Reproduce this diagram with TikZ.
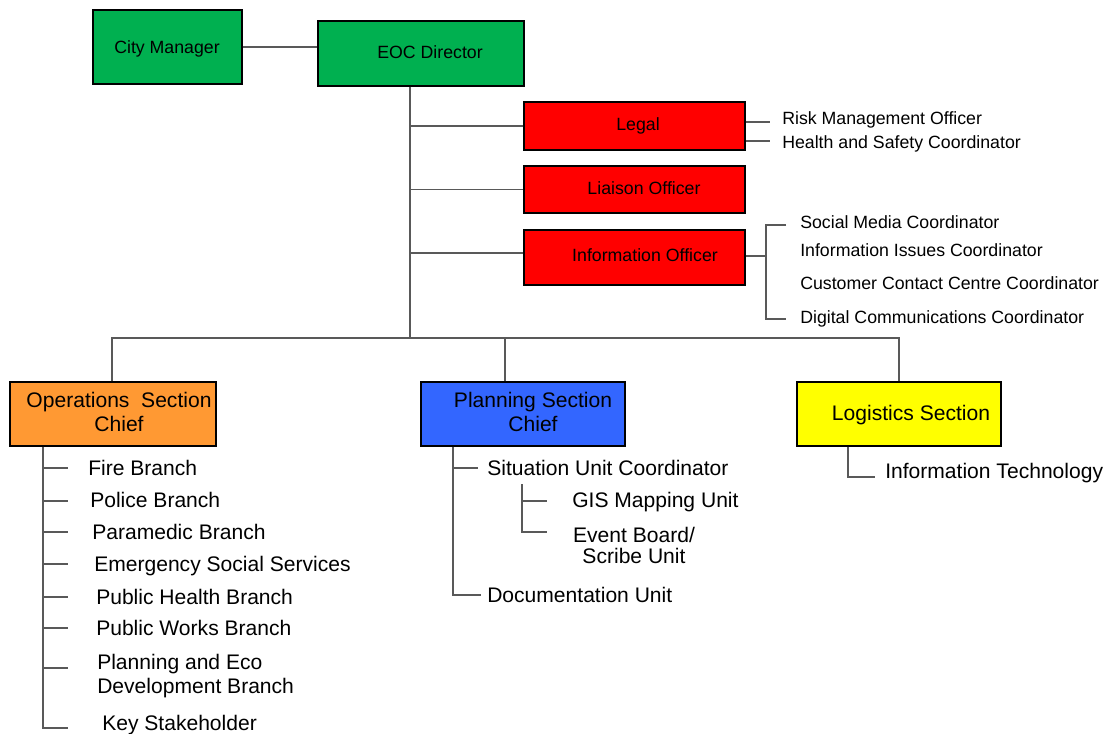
\documentclass[tikz,border=0pt]{standalone}
\usepackage{fontspec}
\setmainfont{Liberation Sans}
\usetikzlibrary{fit,calc}
\definecolor{cgreen}{HTML}{00B050}
\definecolor{cred}{HTML}{FF0000}
\definecolor{corange}{HTML}{FF9933}
\definecolor{cblue}{HTML}{3366FF}
\definecolor{cyellow}{HTML}{FFFF00}
\definecolor{linegray}{HTML}{595959}
\begin{document}
\begin{tikzpicture}[x=0.75pt,y=-0.75pt,
  box/.style={draw=black, line width=1.1pt, inner sep=0pt},
  conn/.style={draw=linegray, line width=1.1pt},
  small/.style={font=\fontsize{13.3}{16}\selectfont, inner sep=0pt, text height=9.5pt, text depth=0pt},
  big/.style={font=\fontsize{15.8}{18}\selectfont, inner sep=0pt, text height=11.3pt, text depth=0pt},
  bigm/.style={font=\fontsize{15.8}{18}\selectfont, inner sep=0pt}]
\useasboundingbox (0,0) rectangle (1110,733);

% top boxes
\node[box, fill=cgreen, fit={(93,10) (242,84)}] (cm) {};
\node[small] (cmT) at (167,47) {City Manager};
\node[box, fill=cgreen, fit={(318,21) (524,86)}] (eoc) {};
\node[small] (eocT) at (430,52) {EOC Director};
\node[box, fill=cred, fit={(524,102) (745,150)}] (legal) {};
\node[small] (legalT) at (638,124) {Legal};
\node[box, fill=cred, fit={(524,166) (745,213)}] (liaison) {};
\node[small] (liaisonT) at (644,188) {Liaison Officer};
\node[box, fill=cred, fit={(524,230) (745,285)}] (info) {};
\node[small] (infoT) at (645,255) {Information Officer};

\draw[conn] (cm.east) -- (cm.east -| eoc.west);

% trunk
\coordinate (bus) at (410,338);
\draw[conn] (eoc.south -| bus) -- (bus);
\draw[conn] (legal.west) -- (legal.west -| bus);
\draw[conn] (liaison.west) -- (liaison.west -| bus);
\draw[conn] ([yshift=3.4pt]info.west) -- ([yshift=3.4pt]info.west -| bus);

% legal subordinates
\coordinate (rmL) at (770,122);
\coordinate (hsL) at (770,141);
\draw[conn] (legal.east |- rmL) -- (rmL);
\draw[conn] (legal.east |- hsL) -- (hsL);
\node[small, anchor=west] (rmo) at (782,118) {Risk Management Officer};
\node[small, anchor=west] (hsc) at (782,142) {Health and Safety Coordinator};

% information officer subordinates
\coordinate (ib) at (766,256);
\coordinate (smc) at (786,225);
\coordinate (dcc) at (786,319);
\draw[conn] (info.east |- ib) -- (ib);
\draw[conn] (smc) -- (smc -| ib) -- (dcc -| ib) -- (dcc);
\node[small, anchor=west] (smcT) at (800,222) {Social Media Coordinator};
\node[small, anchor=west] (iicT) at (800,250) {Information Issues Coordinator};
\node[small, anchor=west] (cccT) at (800,283) {Customer Contact Centre Coordinator};
\node[small, anchor=west] (dccT) at (800,317) {Digital Communications Coordinator};

% section boxes
\node[box, fill=corange, fit={(10,382) (216,446)}] (ops) {};
\node[bigm, align=center] (opsT) at (119,412) {Operations\ \ Section\\Chief};
\node[box, fill=cblue, fit={(421,382) (625,446)}] (plan) {};
\node[bigm, align=center] (planT) at (533,412) {Planning Section\\Chief};
\node[box, fill=cyellow, fit={(797,382) (1001,446)}] (logi) {};
\node[big] (logiT) at (911,413) {Logistics Section};

% bus
\coordinate (busL) at (112,338);
\coordinate (busR) at (899,338);
\coordinate (pdrop) at (505,338);
\draw[conn] (busL |- ops.north) -- (busL) -- (busR) -- (busR |- logi.north);
\draw[conn] (pdrop) -- (pdrop |- plan.north);

% operations list
\coordinate (ov) at (43,446);
\foreach \y/\n in {468/a,501/b,532/c,564/d,597/e,628/f,668/g}{
  \coordinate (ot\n) at (68,\y);
  \draw[conn] (ot\n -| ov) -- (ot\n);
}
\coordinate (okey) at (68,728);
\draw[conn] (ov |- ops.south) |- (okey);
\node[big, anchor=west] (fire) at (88,468) {Fire Branch};
\node[big, anchor=west] (police) at (90,500) {Police Branch};
\node[big, anchor=west] (para) at (92,532) {Paramedic Branch};
\node[big, anchor=west] (ess) at (94,564) {Emergency Social Services};
\node[big, anchor=west] (phb) at (96,597) {Public Health Branch};
\node[big, anchor=west] (pwb) at (96,628) {Public Works Branch};
\node[bigm, anchor=west, align=left] (ped) at (97,676) {Planning and Eco\\Development Branch};
\node[big, anchor=west] (key) at (102,723) {Key Stakeholder};

% planning list
\coordinate (pv) at (453,446);
\coordinate (sitT) at (478,468);
\coordinate (docT) at (481,595);
\draw[conn] (pv |- plan.south) -- (pv |- docT) -- (docT);
\draw[conn] (pv |- sitT) -- (sitT);
\coordinate (sv) at (522,484);
\coordinate (gisT) at (547,501);
\coordinate (evT) at (547,532);
\draw[conn] (sv) -- (sv |- evT) -- (evT);
\draw[conn] (sv |- gisT) -- (gisT);
\node[big, anchor=west] (sit) at (487,468) {Situation Unit Coordinator};
\node[big, anchor=west] (gis) at (572,500) {GIS Mapping Unit};
\node[font=\fontsize{15.8}{15.75}\selectfont, inner sep=0pt, align=center] (ev) at (634,545) {Event Board/\\Scribe Unit};
\node[big, anchor=west] (doc) at (487,595) {Documentation Unit};

% logistics list
\coordinate (lv) at (848,446);
\coordinate (itT) at (875,477);
\draw[conn] (lv |- logi.south) |- (itT);
\node[big, anchor=west] (it) at (885,471) {Information Technology};
\end{tikzpicture}
\end{document}
